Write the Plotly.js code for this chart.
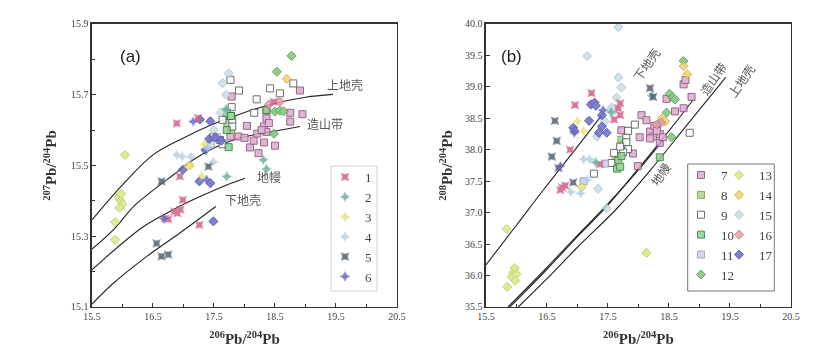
<!DOCTYPE html>
<html>
<head>
<meta charset="utf-8">
<script src="https://cdn.plot.ly/plotly-3.0.1.min.js"></script>
<style>html,body{margin:0;padding:0;background:#fff;}#chart{width:837px;height:357px;}</style>
</head>
<body>
<div id="chart"></div>
<script>
// ---- Growth curves (Zartman & Doe), panel (a): 206/204 vs 207/204 ----
const ucA_x = [15.5, 16.0, 16.5, 17.0, 17.5, 18.0, 18.5, 19.0, 19.45];
const ucA_y = [15.346, 15.445, 15.530, 15.578, 15.618, 15.650, 15.675, 15.693, 15.701];
const orA_x = [15.5, 15.85, 16.18, 16.51, 16.83, 17.16, 17.49, 17.82, 18.14, 18.47, 18.91];
const orA_y = [15.264, 15.318, 15.384, 15.431, 15.473, 15.516, 15.549, 15.572, 15.586, 15.596, 15.610];
const maA_x = [15.5, 15.90, 16.34, 16.83, 17.27, 17.71, 18.01];
const maA_y = [15.205, 15.266, 15.327, 15.375, 15.412, 15.445, 15.464];
const lcA_x = [15.5, 15.85, 16.40, 16.94, 17.53];
const lcA_y = [15.108, 15.167, 15.243, 15.309, 15.384];

// ---- Growth curves, panel (b): 206/204 vs 208/204 ----
const lcB_x = [15.5, 16.0, 16.44, 17.0, 17.40];
const lcB_y = [36.17, 36.80, 37.36, 38.05, 38.55];
const orB_x = [15.89, 16.5, 17.0, 17.48, 18.0, 18.5, 18.9];
const orB_y = [35.50, 36.10, 36.62, 37.10, 37.70, 38.30, 38.80];
const maB_x = [15.86, 16.5, 17.0, 17.46, 18.0, 18.40];
const maB_y = [35.50, 36.13, 36.64, 37.10, 37.68, 38.15];
const ucB_x = [16.03, 16.5, 17.0, 17.65, 18.2, 18.8, 19.43];
const ucB_y = [35.50, 35.95, 36.45, 37.07, 37.68, 38.40, 39.15];

// ---- Sample series: [206/204, 207/204] for (a), [206/204, 208/204] for (b) ----
const s1_ax = [16.89, 16.94, 16.99, 16.85, 16.95, 16.90, 16.70, 16.75, 17.26, 17.24, 18.48];
const s1_ay = [15.619, 15.469, 15.403, 15.370, 15.375, 15.365, 15.350, 15.348, 15.332, 15.634, 15.680];
const s1_bx = [17.23, 16.96, 16.88, 16.75, 16.80, 16.72, 17.70, 17.67, 17.70, 17.37, 17.60];
const s1_by = [38.90, 38.71, 38.00, 37.40, 37.43, 37.36, 38.74, 38.66, 38.55, 37.77, 38.48];

const s2_ax = [18.31, 18.36, 17.71, 17.70];
const s2_ay = [15.516, 15.490, 15.469, 15.660];
const s2_bx = [18.22, 17.30, 17.55];
const s2_by = [38.86, 37.80, 38.60];

const s3_ax = [17.08, 17.35, 17.30];
const s3_ay = [15.497, 15.560, 15.470];
const s3_bx = [17.10, 17.00];
const s3_by = [38.30, 38.45];

const s4_ax = [16.89, 16.98, 17.12, 17.49, 17.40];
const s4_ay = [15.530, 15.525, 15.525, 15.510, 15.550];
const s4_bx = [17.10, 17.16, 17.05, 16.89, 17.20];
const s4_by = [37.85, 37.52, 37.31, 37.33, 37.85];

const s5_ax = [16.64, 16.75, 16.56, 16.64, 17.41];
const s5_ay = [15.243, 15.248, 15.280, 15.455, 15.497];
const s5_bx = [16.63, 16.66, 16.58, 16.69, 18.19, 18.24, 16.93];
const s5_by = [38.46, 38.14, 37.89, 37.71, 38.98, 38.84, 37.48];

const s6_ax = [17.16, 16.68, 17.38];
const s6_ay = [15.624, 15.350, 15.460];
const s6_bx = [16.72, 16.95, 17.42];
const s6_by = [37.74, 38.27, 38.63];

const s7_ax = [17.79, 18.91, 18.75, 18.95, 18.75, 18.36, 18.36, 18.04, 18.21, 18.32, 18.36, 17.90, 17.77, 18.09, 18.23, 18.50, 18.15, 18.32, 18.40, 18.28, 18.00];
const s7_ay = [15.695, 15.712, 15.649, 15.645, 15.624, 15.633, 15.655, 15.612, 15.590, 15.610, 15.595, 15.582, 15.582, 15.551, 15.535, 15.556, 15.570, 15.565, 15.620, 15.600, 15.578];
const s7_bx = [18.05, 18.13, 18.02, 17.72, 17.91, 17.99, 18.19, 18.24, 18.19, 18.30, 18.35, 18.35, 18.60, 18.74, 18.87, 18.74, 18.77, 18.46, 18.26, 18.40, 18.30];
const s7_by = [38.55, 38.47, 38.20, 38.31, 37.94, 37.74, 38.29, 38.21, 38.18, 38.38, 38.25, 38.11, 38.61, 38.66, 38.84, 39.04, 39.11, 38.81, 38.38, 38.20, 38.30];

const s8_ax = [17.72, 17.78];
const s8_ay = [15.620, 15.600];
const s8_bx = [17.72, 17.75];
const s8_by = [38.16, 38.08];

const s9_ax = [17.77, 17.91, 18.20, 18.42, 18.58, 18.80, 18.16, 17.79, 17.64, 17.80, 17.80, 17.60, 17.64, 17.77, 17.49];
const s9_ay = [15.742, 15.712, 15.687, 15.718, 15.704, 15.732, 15.649, 15.665, 15.629, 15.629, 15.610, 15.572, 15.560, 15.640, 15.580];
const s9_bx = [17.94, 17.83, 17.80, 17.80, 17.83, 17.75, 17.64, 17.56, 17.27, 18.84, 17.60, 17.70];
const s9_by = [38.40, 38.30, 38.19, 38.12, 38.01, 37.96, 37.88, 37.79, 37.62, 38.27, 37.95, 38.05];

const s10_ax = [17.71, 17.71, 17.74, 18.36, 17.78];
const s10_ay = [15.648, 15.600, 15.552, 15.657, 15.640];
const s10_bx = [17.67, 17.65, 17.70, 17.72, 18.35];
const s10_by = [37.83, 37.70, 37.73, 37.90, 37.88];

const s11_ax = [17.55, 17.45];
const s11_ay = [15.580, 15.560];
const s11_bx = [17.45, 17.10];
const s11_by = [37.78, 37.50];

const s12_ax = [18.53, 18.77, 18.50, 18.58, 18.64, 18.48];
const s12_ay = [15.765, 15.810, 15.653, 15.655, 15.653, 15.590];
const s12_bx = [18.51, 18.56, 18.60, 18.74, 18.46, 18.54];
const s12_by = [38.89, 38.83, 38.80, 39.41, 38.59, 38.20];

const s13_ax = [16.04, 15.93, 15.97, 16.00, 15.95, 15.98, 15.88, 15.88];
const s13_ay = [15.530, 15.410, 15.400, 15.390, 15.380, 15.420, 15.340, 15.290];
const s13_bx = [15.84, 15.95, 15.97, 15.92, 16.00, 15.98, 15.85, 18.13, 17.07];
const s13_by = [36.74, 36.05, 36.12, 35.98, 36.02, 35.92, 35.82, 36.36, 37.41];

const s14_ax = [18.69, 17.10];
const s14_ay = [15.745, 15.500];
const s14_bx = [18.80, 18.74, 18.38, 18.44];
const s14_by = [39.20, 39.33, 38.49, 38.45];

const s15_ax = [17.74, 17.64, 17.61, 17.70, 17.50];
const s15_ay = [15.760, 15.733, 15.650, 15.700, 15.600];
const s15_bx = [17.67, 17.16, 17.67, 17.72, 17.64, 17.56, 17.58, 17.45, 17.32, 17.34, 17.48];
const s15_by = [39.95, 39.49, 39.15, 38.99, 38.83, 38.67, 38.60, 38.45, 38.21, 37.38, 37.07];

const s16_ax = [18.58, 18.40];
const s16_ay = [15.680, 15.672];
const s16_bx = [18.37, 18.30];
const s16_by = [38.43, 38.40];

const s17_ax = [17.27, 17.44, 16.99, 17.36, 17.26, 17.44, 17.49, 17.42, 17.52, 17.62];
const s17_ay = [15.630, 15.625, 15.488, 15.544, 15.455, 15.450, 15.342, 15.575, 15.580, 15.570];
const s17_bx = [17.22, 17.28, 17.30, 17.19, 16.93, 16.95, 17.40, 17.48, 17.35, 17.40];
const s17_by = [38.72, 38.75, 38.70, 38.46, 38.35, 38.30, 38.37, 38.27, 38.27, 38.55];

const seriesNames = ['1','2','3','4','5','6','7','8','9','10','11','12','13','14','15','16','17'];

// ---- Styles ----
const starX = (c) => ({symbol: 'star-square', size: 7, color: c, line: {color: c, width: 0.4}});
const starP = (c) => ({symbol: 'star-diamond', size: 7, color: c, line: {color: c, width: 0.4}});
const sq = (f, l) => ({symbol: 'square', size: 7, color: f, line: {color: l, width: 1}});
const dia = (f, l) => ({symbol: 'diamond', size: 7, color: f, line: {color: l, width: 1}});
const styles = [
  starX('#d0608a'), starP('#6ab0a4'), starP('#e6e27a'), starP('#b4d0e4'), starX('#556270'), starP('#6a6ac0'),
  sq('#dcaacc', '#8a4a78'), sq('#a8d890', '#6a9a50'), sq('#ffffff', '#555555'), sq('#8fcf8f', '#2f7f3f'), sq('#cfcfec', '#9898c8'),
  dia('#80c478', '#4a9a4a'), dia('#d8e880', '#b8c860'), dia('#f0d070', '#d0a840'), dia('#c8dce4', '#a8c0cc'), dia('#e0a0a8', '#c07080'), dia('#6a6ac8', '#4848a0')
];
const dataA = [[s1_ax,s1_ay],[s2_ax,s2_ay],[s3_ax,s3_ay],[s4_ax,s4_ay],[s5_ax,s5_ay],[s6_ax,s6_ay],[s7_ax,s7_ay],[s8_ax,s8_ay],[s9_ax,s9_ay],[s10_ax,s10_ay],[s11_ax,s11_ay],[s12_ax,s12_ay],[s13_ax,s13_ay],[s14_ax,s14_ay],[s15_ax,s15_ay],[s16_ax,s16_ay],[s17_ax,s17_ay]];
const dataB = [[s1_bx,s1_by],[s2_bx,s2_by],[s3_bx,s3_by],[s4_bx,s4_by],[s5_bx,s5_by],[s6_bx,s6_by],[s7_bx,s7_by],[s8_bx,s8_by],[s9_bx,s9_by],[s10_bx,s10_by],[s11_bx,s11_by],[s12_bx,s12_by],[s13_bx,s13_by],[s14_bx,s14_by],[s15_bx,s15_by],[s16_bx,s16_by],[s17_bx,s17_by]];

const traces = [];
const lineStyle = {color: '#222', width: 1.1, shape: 'spline'};
[[ucA_x,ucA_y],[orA_x,orA_y],[maA_x,maA_y],[lcA_x,lcA_y]].forEach(c => traces.push({x:c[0], y:c[1], mode:'lines', line:lineStyle, xaxis:'x', yaxis:'y', showlegend:false, hoverinfo:'skip'}));
[[lcB_x,lcB_y],[orB_x,orB_y],[maB_x,maB_y],[ucB_x,ucB_y]].forEach(c => traces.push({x:c[0], y:c[1], mode:'lines', line:lineStyle, xaxis:'x2', yaxis:'y2', showlegend:false, hoverinfo:'skip'}));

const order = [6,7,8,9,10,11,12,13,14,15,16,0,1,2,3,4,5];
order.forEach(i => {
  const inA = i < 6;
  const leg = inA ? 'legend' : (i < 12 ? 'legend2' : 'legend3');
  traces.push({x: dataA[i][0], y: dataA[i][1], mode: 'markers', name: seriesNames[i], marker: styles[i], opacity: 0.85,
    xaxis: 'x', yaxis: 'y', showlegend: inA, legend: 'legend', legendrank: i});
  traces.push({x: dataB[i][0], y: dataB[i][1], mode: 'markers', name: seriesNames[i], marker: styles[i], opacity: 0.85,
    xaxis: 'x2', yaxis: 'y2', showlegend: !inA, legend: inA ? 'legend2' : leg, legendrank: i});
});

const tickFont = {family: 'Liberation Serif, Times New Roman, serif', size: 10, color: '#444'};
const titleFont = {family: 'Liberation Serif, Times New Roman, serif', size: 15, color: '#333'};
const axBase = {showline: true, mirror: true, linecolor: '#333', linewidth: 1.5, ticks: 'inside', ticklen: 4, tickcolor: '#333',
  showgrid: false, zeroline: false, tickfont: tickFont};
const legFont = {family: 'Liberation Serif, Times New Roman, serif', size: 13, color: '#444'};
const cjk = {family: 'Noto Sans CJK SC, sans-serif', size: 12, color: '#555'};

const layout = {
  width: 837, height: 357, margin: {l: 0, r: 0, t: 0, b: 0}, paper_bgcolor: '#fff', plot_bgcolor: '#fff',
  xaxis: Object.assign({}, axBase, {domain: [0.1099, 0.4743], range: [15.5, 20.5], tick0: 15.5, dtick: 1, minor: {dtick: 0.5, ticks: 'inside', ticklen: 3, tickcolor: '#333'},
    title: {text: '<b><sup>206</sup>Pb/<sup>204</sup>Pb</b>', font: titleFont, standoff: 12}, anchor: 'y'}),
  yaxis: Object.assign({}, axBase, {domain: [0.1401, 0.9328], range: [15.1, 15.9], tick0: 15.1, dtick: 0.2, tickformat: '.1f', minor: {dtick: 0.1, ticks: 'inside', ticklen: 3, tickcolor: '#333'},
    title: {text: '<b><sup>207</sup>Pb/<sup>204</sup>Pb</b>', font: titleFont, standoff: 10}, anchor: 'x'}),
  xaxis2: Object.assign({}, axBase, {domain: [0.5806, 0.9450], range: [15.5, 20.5], tick0: 15.5, dtick: 1, minor: {dtick: 0.5, ticks: 'inside', ticklen: 3, tickcolor: '#333'},
    title: {text: '<b><sup>206</sup>Pb/<sup>204</sup>Pb</b>', font: titleFont, standoff: 12}, anchor: 'y2'}),
  yaxis2: Object.assign({}, axBase, {domain: [0.1401, 0.9328], range: [35.5, 40.0], tick0: 35.5, dtick: 0.5, tickformat: '.1f',
    title: {text: '<b><sup>208</sup>Pb/<sup>204</sup>Pb</b>', font: titleFont, standoff: 8}, anchor: 'x2'}),
  legend: {x: 325/837, y: 1 - 162/357, xanchor: 'left', yanchor: 'top', bgcolor: 'rgba(0,0,0,0)', borderwidth: 0,
    font: legFont, itemwidth: 30, tracegroupgap: 0, traceorder: 'normal'},
  legend2: {x: 681/837, y: 1 - 160/357, xanchor: 'left', yanchor: 'top', bgcolor: 'rgba(0,0,0,0)', borderwidth: 0,
    font: legFont, itemwidth: 30, tracegroupgap: 0, traceorder: 'normal'},
  legend3: {x: 719/837, y: 1 - 160/357, xanchor: 'left', yanchor: 'top', bgcolor: 'rgba(0,0,0,0)', borderwidth: 0,
    font: legFont, itemwidth: 30, tracegroupgap: 0, traceorder: 'normal'},
  shapes: [
    {type: 'rect', xref: 'paper', yref: 'paper', x0: 331/837, x1: 377/837, y0: 1 - 291/357, y1: 1 - 166/357, line: {color: '#cfcfcf', width: 1}},
    {type: 'rect', xref: 'paper', yref: 'paper', x0: 687.7/837, x1: 774.3/837, y0: 1 - 291/357, y1: 1 - 164/357, line: {color: '#777', width: 1}}
  ],
  annotations: [
    {text: '(a)', xref: 'paper', yref: 'paper', x: 118/837, y: 1 - 45/357, showarrow: false, font: {family: 'Liberation Sans, Arial, sans-serif', size: 17, color: '#222'}},
    {text: '(b)', xref: 'paper', yref: 'paper', x: 511.7/837, y: 1 - 45/357, showarrow: false, font: {family: 'Liberation Sans, Arial, sans-serif', size: 17, color: '#222'}},
    {text: '上地壳', xref: 'x', yref: 'y', x: 19.65, y: 15.728, showarrow: false, font: cjk},
    {text: '造山带', xref: 'x', yref: 'y', x: 19.32, y: 15.618, showarrow: false, font: cjk},
    {text: '地幔', xref: 'x', yref: 'y', x: 18.40, y: 15.470, showarrow: false, font: cjk},
    {text: '下地壳', xref: 'x', yref: 'y', x: 17.97, y: 15.405, showarrow: false, font: cjk},
    {text: '下地壳', xref: 'x2', yref: 'y2', x: 18.12, y: 39.36, showarrow: false, textangle: -55, font: cjk},
    {text: '造山带', xref: 'x2', yref: 'y2', x: 19.22, y: 39.13, showarrow: false, textangle: -55, font: cjk},
    {text: '上地壳', xref: 'x2', yref: 'y2', x: 19.68, y: 39.10, showarrow: false, textangle: -55, font: cjk},
    {text: '地幔', xref: 'x2', yref: 'y2', x: 18.36, y: 37.62, showarrow: false, textangle: -55, font: cjk}
  ]
};

Plotly.newPlot('chart', traces, layout, {displayModeBar: false, staticPlot: true});
</script>
</body>
</html>
